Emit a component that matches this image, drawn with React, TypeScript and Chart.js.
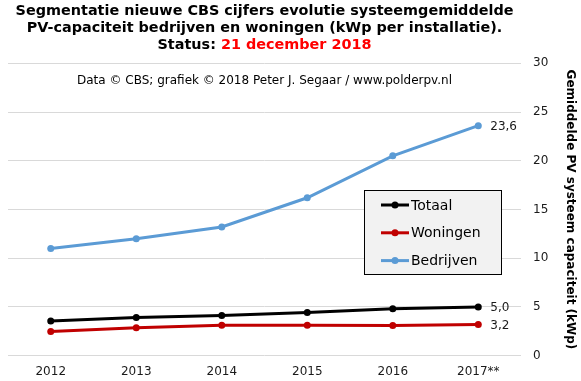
import React, { useEffect, useRef } from "react";
import { Chart, registerables } from "chart.js";

Chart.register(...registerables);

const categories = ["2012", "2013", "2014", "2015", "2016", "2017**"];
const totaal = [3.55, 3.92, 4.12, 4.43, 4.8, 5.0];
const woningen = [2.47, 2.87, 3.11, 3.11, 3.1, 3.2];
const bedrijven = [11.0, 12.0, 13.2, 16.2, 20.5, 23.6];
const seriesNames = ["Totaal", "Woningen", "Bedrijven"];
const seriesColors = ["#000000", "#c00000", "#5b9bd5"];
const yMin = 0;
const yMax = 30;
const yStep = 5;
const titleLines = [
  "Segmentatie nieuwe CBS cijfers evolutie systeemgemiddelde",
  "PV-capaciteit bedrijven en woningen (kWp per installatie).",
];
const statusLabel = "Status: ";
const statusDate = "21 december 2018";
const sourceText = "Data © CBS; grafiek © 2018 Peter J. Segaar / www.polderpv.nl";
const yAxisTitle = "Gemiddelde PV systeem capaciteit (kWp)";

const FONT = "'DejaVu Sans', Verdana, sans-serif";

const decorPlugin = {
  id: "decor",
  afterDraw(chart: any) {
    const ctx = chart.ctx;
    const area = chart.chartArea;
    const cx = (area.left + area.right) / 2;
    ctx.save();
    // Title
    ctx.font = `bold 14.4px ${FONT}`;
    ctx.textBaseline = "alphabetic";
    ctx.textAlign = "center";
    ctx.fillStyle = "#000";
    ctx.fillText(titleLines[0], cx, 15);
    ctx.fillText(titleLines[1], cx, 32);
    const w1 = ctx.measureText(statusLabel).width;
    const w2 = ctx.measureText(statusDate).width;
    const start = cx - (w1 + w2) / 2;
    ctx.textAlign = "left";
    ctx.fillText(statusLabel, start, 49);
    ctx.fillStyle = "#ff0000";
    ctx.fillText(statusDate, start + w1, 49);
    // Source
    ctx.font = `12px ${FONT}`;
    ctx.fillStyle = "#000";
    ctx.textAlign = "center";
    ctx.fillText(sourceText, cx, 84);

    // Last value labels
    ctx.font = `12px ${FONT}`;
    ctx.textAlign = "left";
    ctx.textBaseline = "middle";
    ctx.fillStyle = "#1a1a1a";
    chart.data.datasets.forEach((ds: any, i: number) => {
      const meta = chart.getDatasetMeta(i);
      const last = meta.data[meta.data.length - 1];
      const v = ds.data[ds.data.length - 1];
      ctx.fillText(v.toFixed(1).replace(".", ","), last.x + 12, last.y + 1);
    });

    // Legend box
    const lx = 364, ly = 190, lw = 138, lh = 85;
    ctx.fillStyle = "#f2f2f2";
    ctx.fillRect(lx, ly, lw, lh);
    ctx.strokeStyle = "#000";
    ctx.lineWidth = 1;
    ctx.strokeRect(lx + 0.5, ly + 0.5, lw - 1, lh - 1);
    ctx.font = `14px ${FONT}`;
    ctx.textBaseline = "middle";
    ctx.textAlign = "left";
    chart.data.datasets.forEach((ds: any, i: number) => {
      const y = ly + 15 + i * 27.8;
      ctx.strokeStyle = ds.borderColor;
      ctx.lineWidth = 3;
      ctx.beginPath();
      ctx.moveTo(381, y);
      ctx.lineTo(409, y);
      ctx.stroke();
      ctx.fillStyle = ds.borderColor;
      ctx.beginPath();
      ctx.arc(395, y, 3.5, 0, Math.PI * 2);
      ctx.fill();
      ctx.fillStyle = "#000";
      ctx.fillText(ds.label, 411, y + 1);
    });
    ctx.restore();
  },
};

export default function App() {
  const ref = useRef<HTMLCanvasElement | null>(null);
  useEffect(() => {
    if (!ref.current) return;
    const seriesData = [totaal, woningen, bedrijven];
    const chart = new Chart(ref.current, {
      type: "line",
      data: {
        labels: categories,
        datasets: seriesNames.map((name, i) => ({
          label: name,
          data: seriesData[i],
          borderColor: seriesColors[i],
          backgroundColor: seriesColors[i],
          pointBackgroundColor: seriesColors[i],
          pointBorderWidth: 0,
          pointRadius: 3.5,
          borderWidth: 3,
          tension: 0,
          fill: false,
        })),
      },
      options: {
        responsive: false,
        animation: false,
        devicePixelRatio: 1,
        layout: { padding: { top: 63.3, left: 8, right: 4, bottom: -7 } },
        plugins: {
          legend: { display: false },
          title: { display: false },
          tooltip: { enabled: false },
        },
        scales: {
          x: {
            offset: true,
            grid: { display: false, drawTicks: false },
            border: { display: false },
            ticks: {
              padding: 9,
              color: "#1a1a1a",
              font: { family: FONT, size: 12 },
              maxRotation: 0,
              autoSkip: false,
            },
          },
          y: {
            position: "right",
            min: yMin,
            max: yMax,
            grid: { color: "#d9d9d9", lineWidth: 1, drawTicks: false },
            border: { display: false },
            ticks: {
              stepSize: yStep,
              padding: 12,
              color: "#1a1a1a",
              font: { family: FONT, size: 12 },
            },
            title: {
              display: true,
              text: yAxisTitle,
              color: "#000",
              font: { family: FONT, size: 12, weight: "bold" },
              padding: { top: 0, bottom: 2.3 },
            },
          },
        },
      },
      plugins: [decorPlugin],
    });
    return () => chart.destroy();
  }, []);
  return (
    <div style={{ position: "absolute", left: 0, top: 0, width: 581, height: 381, background: "#fff" }}>
      <canvas ref={ref} width={581} height={381} style={{ display: "block" }} />
    </div>
  );
}
